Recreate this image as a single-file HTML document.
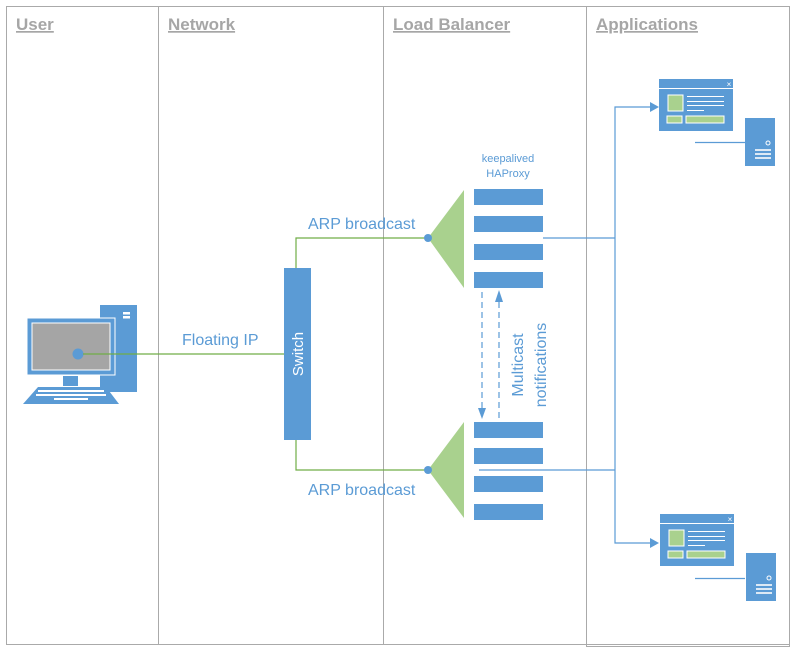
<!DOCTYPE html>
<html><head><style>
body{margin:0;background:#fff;}
svg{display:block;font-family:"Liberation Sans",sans-serif;}
</style></head><body>
<svg width="796" height="653" viewBox="0 0 796 653">
<rect x="6.5" y="6.5" width="783" height="638" fill="none" stroke="#aaa"/>
<rect x="586.5" y="6.5" width="203" height="640" fill="none" stroke="#aaa"/>
<line x1="158.5" y1="6" x2="158.5" y2="645" stroke="#aaa"/>
<line x1="383.5" y1="6" x2="383.5" y2="645" stroke="#aaa"/>
<g fill="#a6a6a6" font-weight="bold" font-size="17" text-decoration="underline">
<text x="16" y="30">User</text><text x="168" y="30">Network</text>
<text x="393" y="30">Load Balancer</text><text x="596" y="30">Applications</text></g>
<!-- computer -->
<rect x="100" y="305" width="37" height="87" fill="#5b9bd5"/>
<rect x="123" y="312" width="7" height="2.5" fill="#fff"/><rect x="123" y="316" width="7" height="2.5" fill="#fff"/>
<rect x="27" y="318" width="88" height="57" fill="#5b9bd5" stroke="#fff"/>
<rect x="32" y="323" width="78" height="47" fill="#a5a5a5" stroke="#fff"/>
<rect x="63" y="376" width="15" height="10" fill="#5b9bd5"/>
<polygon points="38,387 106,387 119,404 23,404" fill="#5b9bd5"/>
<g fill="#fff"><rect x="38" y="390" width="66" height="2"/><rect x="36" y="394" width="70" height="2"/><rect x="54" y="398" width="34" height="2"/></g>
<circle cx="78" cy="354" r="5.5" fill="#5b9bd5"/>
<!-- green lines -->
<g stroke="#70ad47" fill="none" stroke-width="1.2">
<line x1="83" y1="354" x2="284" y2="354"/>
<polyline points="296,268 296,238 425,238"/>
<polyline points="296,440 296,470 425,470"/></g>
<rect x="284" y="268" width="27" height="172" fill="#5b9bd5"/>
<text transform="translate(303,354) rotate(-90)" text-anchor="middle" fill="#fff" font-size="15">Switch</text>
<g fill="#5b9bd5" font-size="16"><text x="182" y="345">Floating IP</text>
<text x="308" y="229">ARP broadcast</text><text x="308" y="495">ARP broadcast</text></g>
<polygon points="428,238 464,190 464,288" fill="#a9d18e"/>
<polygon points="428,470 464,422 464,518" fill="#a9d18e"/>
<circle cx="428" cy="238" r="4" fill="#5b9bd5"/><circle cx="428" cy="470" r="4" fill="#5b9bd5"/>
<g fill="#5b9bd5">
<rect x="474" y="189" width="69" height="16"/><rect x="474" y="216" width="69" height="16"/><rect x="474" y="244" width="69" height="16"/><rect x="474" y="272" width="69" height="16"/>
<rect x="474" y="422" width="69" height="16"/><rect x="474" y="448" width="69" height="16"/><rect x="474" y="476" width="69" height="16"/><rect x="474" y="504" width="69" height="16"/></g>
<text x="508" y="162" fill="#5b9bd5" font-size="11" text-anchor="middle">keepalived</text>
<text x="508" y="177" fill="#5b9bd5" font-size="11" text-anchor="middle">HAProxy</text>
<g stroke="#5b9bd5" fill="none" stroke-width="1.2">
<line x1="543" y1="238" x2="615" y2="238"/><line x1="479" y1="470" x2="615" y2="470"/>
<polyline points="650,107 615,107 615,543 650,543"/>
<line x1="482" y1="292" x2="482" y2="408" stroke-dasharray="6,4"/>
<line x1="499" y1="418" x2="499" y2="302" stroke-dasharray="6,4"/>
<line x1="695" y1="142.5" x2="745" y2="142.5"/><line x1="695" y1="578.5" x2="745" y2="578.5"/></g>
<g fill="#5b9bd5"><polygon points="478,408 486,408 482,419"/><polygon points="495,302 503,302 499,290"/>
<polygon points="650,102 650,112 659,107"/><polygon points="650,538 650,548 659,543"/></g>
<g fill="#5b9bd5" font-size="16">
<text transform="translate(523,365) rotate(-90)" text-anchor="middle">Multicast</text>
<text transform="translate(546,365) rotate(-90)" text-anchor="middle">notifications</text></g>
<!-- app windows -->
<g id="a">
<rect x="659" y="79" width="74" height="52" fill="#5b9bd5"/>
<line x1="659" y1="88.5" x2="733" y2="88.5" stroke="#fff"/>
<text x="729" y="87" fill="#fff" font-size="8" text-anchor="middle">×</text>
<rect x="668" y="95" width="15" height="16" fill="#a9d18e" stroke="#fff"/>
<g stroke="#fff"><line x1="687" y1="96.5" x2="724" y2="96.5"/><line x1="687" y1="101.5" x2="724" y2="101.5"/><line x1="687" y1="105.5" x2="724" y2="105.5"/><line x1="687" y1="110.5" x2="704" y2="110.5"/></g>
<rect x="667" y="116" width="15" height="7" fill="#a9d18e" stroke="#fff"/>
<rect x="686" y="116" width="38" height="7" fill="#a9d18e" stroke="#fff"/>
<rect x="745" y="118" width="30" height="48" fill="#5b9bd5"/>
<circle cx="768" cy="143" r="2" fill="none" stroke="#fff"/>
<g fill="#dce9f5"><rect x="755" y="149" width="16" height="2"/><rect x="755" y="153" width="16" height="2"/><rect x="755" y="157" width="16" height="2"/></g>
</g>
<use href="#a" transform="translate(1,435)"/>
</svg>
</body></html>
